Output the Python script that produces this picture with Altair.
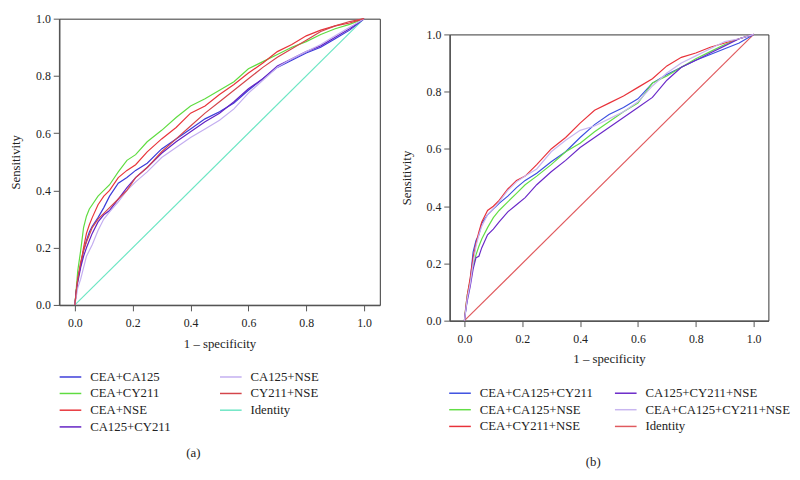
import altair as alt
import pandas as pd

# ---------------- data ----------------
FPR = [0, 0.005, 0.01, 0.02, 0.03, 0.04, 0.05, 0.06, 0.08, 0.10, 0.12, 0.15, 0.18,
       0.21, 0.25, 0.30, 0.35, 0.40, 0.45, 0.50, 0.55, 0.60, 0.65, 0.70, 0.75,
       0.80, 0.85, 0.90, 0.95, 1.0]
ID_FPR = [0, 1]
ID_TPR = [0, 1]
TICKS = [0.0, 0.2, 0.4, 0.6, 0.8, 1.0]

# panel (a)
A_NAMES = ["CEA+CA125", "CEA+CY211", "CEA+NSE", "CA125+CY211", "CA125+NSE", "CY211+NSE", "Identity"]
A_COLORS = ["#3b3bd9", "#5fdc40", "#e8343a", "#6322c4", "#c3aef0", "#d4454b", "#6de6c4"]
A_CEA_CA125 = [0, 0.05, 0.09, 0.14, 0.19, 0.225, 0.255, 0.275, 0.305, 0.34, 0.38, 0.425, 0.445,
               0.47, 0.495, 0.545, 0.58, 0.615, 0.65, 0.675, 0.705, 0.75, 0.79, 0.83, 0.855,
               0.88, 0.90, 0.93, 0.96, 1.0]
A_CEA_CY211 = [0, 0.06, 0.12, 0.19, 0.27, 0.31, 0.335, 0.35, 0.38, 0.40, 0.42, 0.465, 0.505,
               0.525, 0.57, 0.61, 0.655, 0.695, 0.72, 0.75, 0.78, 0.825, 0.85, 0.875, 0.90,
               0.92, 0.945, 0.965, 0.98, 1.0]
A_CEA_NSE = [0, 0.05, 0.09, 0.14, 0.20, 0.25, 0.28, 0.305, 0.35, 0.38, 0.40, 0.445, 0.47,
             0.49, 0.535, 0.58, 0.62, 0.67, 0.695, 0.735, 0.77, 0.81, 0.845, 0.885, 0.91,
             0.94, 0.96, 0.975, 0.985, 1.0]
A_CA125_CY211 = [0, 0.05, 0.08, 0.13, 0.17, 0.20, 0.225, 0.25, 0.29, 0.315, 0.33, 0.37, 0.41,
                 0.445, 0.48, 0.53, 0.57, 0.605, 0.64, 0.67, 0.71, 0.755, 0.79, 0.835, 0.86,
                 0.885, 0.905, 0.935, 0.965, 1.0]
A_CA125_NSE = [0, 0.03, 0.06, 0.09, 0.13, 0.17, 0.19, 0.21, 0.26, 0.30, 0.325, 0.36, 0.40,
               0.43, 0.465, 0.515, 0.55, 0.585, 0.615, 0.645, 0.685, 0.74, 0.785, 0.83, 0.86,
               0.885, 0.91, 0.94, 0.97, 1.0]
A_CY211_NSE = [0, 0.05, 0.09, 0.15, 0.19, 0.22, 0.245, 0.27, 0.30, 0.32, 0.34, 0.37, 0.40,
               0.445, 0.48, 0.535, 0.58, 0.625, 0.67, 0.71, 0.75, 0.79, 0.83, 0.865, 0.895,
               0.925, 0.955, 0.975, 0.99, 1.0]

# panel (b)
B_NAMES = ["CEA+CA125+CY211", "CEA+CA125+NSE", "CEA+CY211+NSE", "CA125+CY211+NSE",
           "CEA+CA125+CY211+NSE", "Identity"]
B_COLORS = ["#3c4fe0", "#62de46", "#e8323a", "#6a28c8", "#c8b6f0", "#e05a5e"]
B_CEA_CA125_CY211 = [0, 0.04, 0.08, 0.14, 0.24, 0.28, 0.30, 0.34, 0.37, 0.39, 0.41, 0.435, 0.465,
                     0.49, 0.515, 0.555, 0.59, 0.64, 0.685, 0.72, 0.745, 0.775, 0.83, 0.86, 0.885,
                     0.91, 0.93, 0.95, 0.97, 1.0]
B_CEA_CA125_NSE = [0, 0.05, 0.09, 0.14, 0.19, 0.23, 0.26, 0.285, 0.325, 0.36, 0.385, 0.415, 0.445,
                   0.475, 0.505, 0.545, 0.59, 0.62, 0.66, 0.695, 0.73, 0.76, 0.83, 0.855, 0.885,
                   0.915, 0.94, 0.965, 0.985, 1.0]
B_CEA_CY211_NSE = [0, 0.05, 0.09, 0.15, 0.22, 0.27, 0.31, 0.345, 0.385, 0.40, 0.42, 0.46, 0.49,
                   0.505, 0.545, 0.60, 0.64, 0.69, 0.735, 0.76, 0.785, 0.815, 0.845, 0.89, 0.92,
                   0.935, 0.955, 0.97, 0.985, 1.0]
B_CA125_CY211_NSE = [0, 0.04, 0.07, 0.12, 0.18, 0.22, 0.225, 0.255, 0.30, 0.32, 0.345, 0.38, 0.405,
                     0.43, 0.475, 0.52, 0.56, 0.605, 0.64, 0.675, 0.71, 0.745, 0.78, 0.84, 0.885,
                     0.91, 0.935, 0.96, 0.985, 1.0]
B_ALL4 = [0, 0.04, 0.08, 0.13, 0.20, 0.26, 0.30, 0.33, 0.37, 0.39, 0.415, 0.455, 0.485,
          0.505, 0.53, 0.59, 0.63, 0.665, 0.68, 0.705, 0.73, 0.765, 0.82, 0.865, 0.90,
          0.925, 0.95, 0.975, 0.985, 1.0]

FONT = "Liberation Serif"
TEXT = "#222222"
PLOT_H = 291


def build_df(names, curves):
    rows = [{"series": "Identity", "fpr": x, "tpr": y} for x, y in zip(ID_FPR, ID_TPR)]
    for name, tpr in zip(names, curves):
        rows += [{"series": name, "fpr": x, "tpr": y} for x, y in zip(FPR, tpr)]
    return pd.DataFrame(rows)


def panel(df, names, colors, width, xpad, caption, dx, offset, col_pad, leg_x, leg_y):
    return alt.Chart(df).mark_line(strokeWidth=1.2).encode(
        x=alt.X("fpr:Q",
                scale=alt.Scale(domain=[-xpad, 1 + xpad], nice=False, zero=False),
                axis=alt.Axis(values=TICKS, format=".1f", title="1 \u2013 specificity")),
        y=alt.Y("tpr:Q",
                scale=alt.Scale(domain=[0, 1], nice=False, zero=False),
                axis=alt.Axis(values=TICKS, format=".1f", title="Sensitivity")),
        color=alt.Color("series:N",
                        scale=alt.Scale(domain=names, range=colors),
                        legend=alt.Legend(title=None, orient="none", legendX=leg_x, legendY=leg_y,
                                          columns=2, columnPadding=col_pad)),
    ).properties(
        width=width, height=PLOT_H,
        title=alt.TitleParams(caption, orient="bottom", anchor="middle", frame="group",
                              dx=dx, offset=offset),
    )


df_a = build_df(A_NAMES[:-1], [A_CEA_CA125, A_CEA_CY211, A_CEA_NSE, A_CA125_CY211, A_CA125_NSE, A_CY211_NSE])
df_b = build_df(B_NAMES[:-1], [B_CEA_CA125_CY211, B_CEA_CA125_NSE, B_CEA_CY211_NSE, B_CA125_CY211_NSE, B_ALL4])

pa = panel(df_a, A_NAMES, A_COLORS, 326, 0.0544, "(a)", -26.5, 13, 46, 5, 357.5)
pb = panel(df_b, B_NAMES, B_COLORS, 324, 0.051, "(b)", -16, 23, 18.5, 4, 358)

spacer = alt.Chart(pd.DataFrame({"v": [0]})).mark_text(text="").encode(
    x=alt.value(0), y=alt.value(0)
).properties(width=10, height=1, view=alt.ViewBackground(stroke="transparent"))

right = alt.vconcat(spacer, pb, spacing=3).resolve_scale(color="independent")

chart = alt.hconcat(pa, right, spacing=19).resolve_scale(
    color="independent", x="independent", y="independent"
).configure(
    padding={"left": 1, "top": 0, "right": 0, "bottom": 0},
    font=FONT,
).configure_view(
    stroke="#333333", strokeWidth=1
).configure_axis(
    grid=False,
    labelFont=FONT, labelFontSize=12, labelColor=TEXT, labelPadding=3,
    titleFont=FONT, titleFontSize=13, titleFontWeight="normal", titleColor=TEXT,
    tickColor="#555555", tickSize=6, tickWidth=1,
    domainColor="#555555", domainWidth=1.5,
).configure_axisX(
    titlePadding=9, labelPadding=7
).configure_axisY(
    titlePadding=13
).configure_legend(
    labelFont=FONT, labelFontSize=13, labelColor=TEXT, labelOffset=13.5,
    symbolType="M-2,0H2", symbolSize=121, symbolStrokeWidth=1.5,
    rowPadding=3, padding=0,
).configure_title(
    font=FONT, fontSize=13, fontWeight="normal", color=TEXT,
)

chart.save("out.html", embed_options={"renderer": "svg", "actions": False})
